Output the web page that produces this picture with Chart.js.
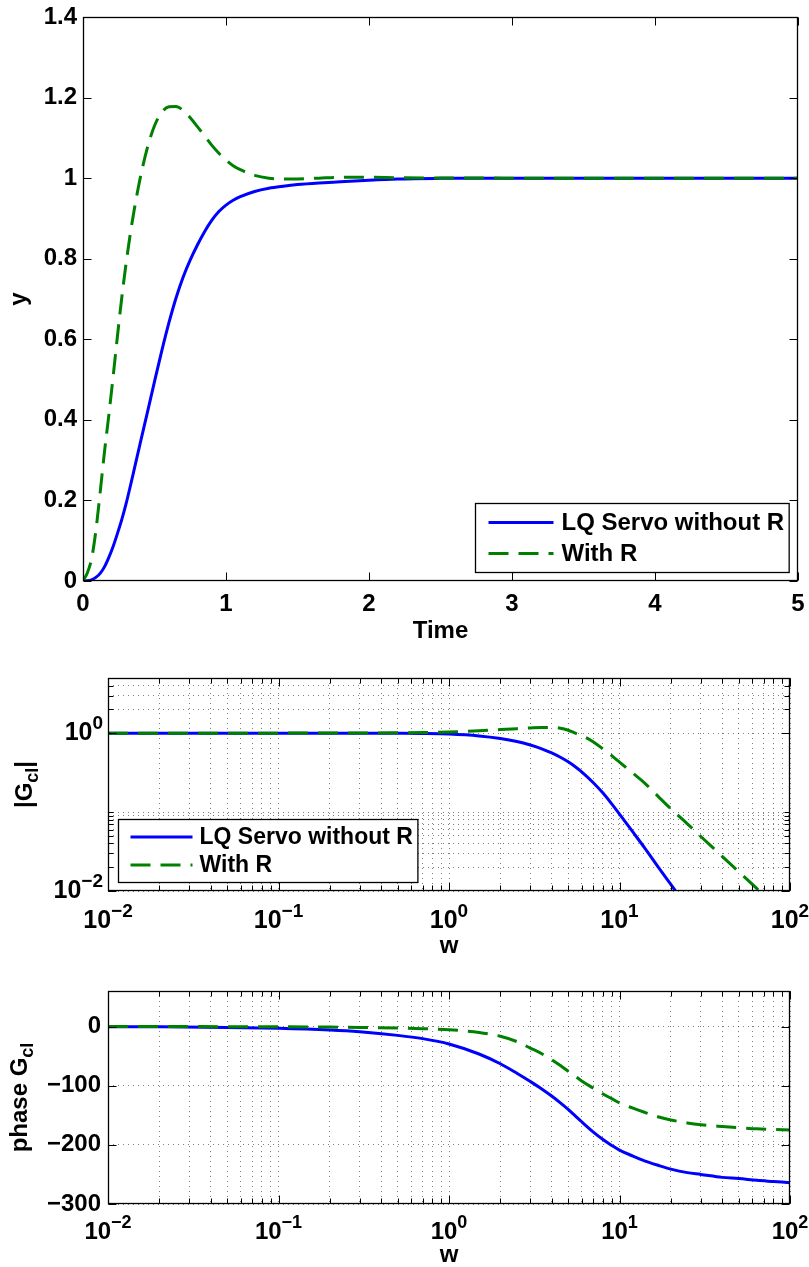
<!DOCTYPE html>
<html>
<head>
<meta charset="utf-8">
<script src="https://cdn.jsdelivr.net/npm/chart.js@4/dist/chart.umd.min.js"></script>
<style>
html,body{margin:0;padding:0;background:#fff;}
#wrap{position:relative;width:809px;height:1267px;overflow:hidden;}
canvas{position:absolute;left:0;}
</style>
</head>
<body>
<div id="wrap">
<canvas id="cStep" style="top:0px" width="809" height="660"></canvas>
<canvas id="cMag" style="top:660px" width="809" height="300"></canvas>
<canvas id="cPhase" style="top:960px" width="809" height="307"></canvas>
</div>
<script>
// step response
const stepTime  = [0,0.03,0.06,0.09,0.12,0.15,0.18,0.21,0.24,0.27,0.30,0.33,0.36,0.40,0.45,0.50,0.55,0.60,0.65,0.70,0.75,0.80,0.85,0.90,0.95,1.0,1.05,1.1,1.2,1.3,1.4,1.5,1.65,1.8,2.0,2.2,2.5,3,3.5,4,4.5,5];
const stepBlue  = [0,0.0005,0.003,0.009,0.019,0.035,0.058,0.085,0.117,0.151,0.19,0.234,0.28,0.342,0.418,0.495,0.570,0.640,0.702,0.754,0.797,0.834,0.867,0.895,0.917,0.933,0.945,0.954,0.967,0.975,0.980,0.984,0.988,0.991,0.995,0.998,0.9995,1,1,1,1,1];
const stepGreen = [0,0.02,0.055,0.125,0.22,0.32,0.41,0.505,0.605,0.70,0.785,0.86,0.925,1.0,1.075,1.13,1.163,1.177,1.178,1.168,1.15,1.128,1.105,1.082,1.062,1.045,1.031,1.021,1.007,1.0,0.998,0.998,1.0,1.002,1.002,1.001,1.0005,1,1,1,1,1];

// closed loop frequency response
const freq       = [0.01,0.02,0.05,0.1,0.2,0.3,0.5,0.7,1,1.5,2,2.5,3,3.5,4,4.5,5,5.5,6,7,8,9,10,12,14,17,20,25,30,40,50,64,80,100];
const magBlue    = [1,1,1,1,1,0.999,0.995,0.989,0.973,0.923,0.857,0.785,0.708,0.634,0.562,0.495,0.434,0.376,0.324,0.237,0.174,0.127,0.0944,0.0556,0.0355,0.0197,0.0121,0.0062,0.0035,0.0015,0.0008,0.0004,0.0002,0.0001];
const magGreen   = [1,1,1,1.001,1.003,1.005,1.012,1.02,1.035,1.07,1.11,1.14,1.165,1.18,1.18,1.155,1.09,1.0,0.93,0.78,0.63,0.52,0.43,0.31,0.235,0.155,0.11,0.071,0.049,0.0275,0.0176,0.0107,0.0068,0.0044];
const phaseBlue  = [-0.3,-0.6,-1.5,-3,-6,-9,-15,-20.5,-29.5,-46.5,-63,-79,-93,-105.5,-117.5,-129,-140,-151,-161,-178,-191,-201,-209,-219,-227,-235,-241,-247,-250,-255,-257,-260,-262,-264];
const phaseGreen = [0,-0.1,-0.25,-0.5,-1,-1.5,-2.5,-3.6,-5.5,-10,-16.5,-25.5,-36.5,-46,-56,-66,-75.5,-84,-92,-104,-114,-122,-129,-138,-145,-153,-158,-163,-166,-169,-171,-173,-174,-175];

const seriesNames  = ['LQ Servo without R', 'With R'];
const seriesColors = ['#0000ff', '#008000'];

const timeTicks   = [0,1,2,3,4,5];
const stepTicks   = [0,0.2,0.4,0.6,0.8,1,1.2,1.4];
const decades     = [0.01,0.1,1,10,100];
const magLabels   = [0.01,1];
const phaseTicks  = [-300,-200,-100,0];

const FONT = '"Liberation Sans", Arial, Helvetica, sans-serif';

// minor log positions 1..9 x 10^n
const freqGrid = [];
for (let e = -2; e < 2; e++) for (let m = 1; m < 10; m++) freqGrid.push(+(m * Math.pow(10, e)).toPrecision(3));
freqGrid.push(100);
const magGrid = [0.01,0.02,0.03,0.04,0.05,0.06,0.07,0.08,0.09,0.1,1,2,3,4,5];

const pair = (xs, ys) => xs.map((x, i) => ({x: x, y: ys[i]}));

function series(i, xs, ys) {
  return {
    label: seriesNames[i],
    data: pair(xs, ys),
    borderColor: seriesColors[i],
    backgroundColor: seriesColors[i],
    borderWidth: 3,
    borderDash: i ? [20, 10] : [],
    pointRadius: 0,
    fill: false,
    cubicInterpolationMode: 'monotone',
    order: 1 - i
  };
}

function fontFor(size) { return 'bold ' + size + 'px ' + FONT; }

// draw text made of parts [text, 'sup'|'sub'|'']
function drawParts(ctx, parts, x, y, align, size) {
  const small = Math.round(size * 0.74);
  let total = 0;
  parts.forEach(p => { ctx.font = fontFor(p[1] ? small : size); total += ctx.measureText(p[0]).width; });
  let cx = align === 'center' ? x - total / 2 : align === 'right' ? x - total : x;
  ctx.textAlign = 'left';
  ctx.textBaseline = 'middle';
  parts.forEach(p => {
    const s = p[1] ? small : size;
    ctx.font = fontFor(s);
    const dy = p[1] === 'sup' ? -size * 0.38 : p[1] === 'sub' ? size * 0.34 : 0;
    ctx.fillText(p[0], cx, y + dy);
    cx += ctx.measureText(p[0]).width;
  });
}

const minus = s => s.replace('-', '\u2212');
function fmt(kind, v) {
  if (kind === 'pow') {
    const e = Math.round(Math.log10(v));
    return [['10', ''], [minus(String(e)), 'sup']];
  }
  return [[minus(String(v)), '']];
}

const frame = {
  id: 'frame',
  afterDraw(chart, args, o) {
    const ctx = chart.ctx, a = chart.chartArea;
    const x = chart.scales.x, y = chart.scales.y;
    const L = Math.round(a.left) + 0.5, R = Math.round(a.right) - 0.5;
    const T = Math.round(a.top) + 0.5, B = Math.round(a.bottom) - 0.5;
    ctx.save();
    ctx.strokeStyle = '#000';
    ctx.lineWidth = 1;
    ctx.setLineDash([]);
    ctx.beginPath();
    const tickX = (vals, len) => vals.forEach(v => {
      const px = Math.round(x.getPixelForValue(v)) + 0.5;
      ctx.moveTo(px, B); ctx.lineTo(px, B - len);
      ctx.moveTo(px, T); ctx.lineTo(px, T + len);
    });
    const tickY = (vals, len) => vals.forEach(v => {
      const py = Math.round(y.getPixelForValue(v)) + 0.5;
      ctx.moveTo(L, py); ctx.lineTo(L + len, py);
      ctx.moveTo(R, py); ctx.lineTo(R - len, py);
    });
    tickX(o.xMinor || [], 5);
    tickY(o.yMinor || [], 5);
    tickX(o.xMajor, 8);
    tickY(o.yMajor, 8);
    ctx.stroke();
    ctx.lineWidth = 1.3;
    ctx.strokeRect(L, T, R - L, B - T);

    // legend box
    const lg = o.legend;
    if (lg) {
      ctx.font = fontFor(lg.size);
      const tw = Math.max.apply(null, chart.data.datasets.map(d => ctx.measureText(d.label).width));
      const w = lg.textX + tw + 5, h = lg.rowH * 2 + 7;
      const bx = lg.side === 'right' ? Math.round(a.right - lg.dx - w) + 0.5 : Math.round(a.left + lg.dx) + 0.5;
      const by = Math.round(a.bottom - lg.dy - h) + 0.5;
      ctx.fillStyle = '#fff';
      ctx.fillRect(bx, by, w, h);
      ctx.strokeStyle = '#000';
      ctx.lineWidth = 1.3;
      ctx.strokeRect(bx, by, w, h);
      chart.data.datasets.forEach((d, i) => {
        const ry = by + 3.5 + lg.rowH * (i + 0.5);
        ctx.beginPath();
        ctx.strokeStyle = d.borderColor;
        ctx.lineWidth = 3;
        ctx.setLineDash(d.borderDash);
        ctx.moveTo(bx + lg.lineX0, ry);
        ctx.lineTo(bx + lg.lineX1, ry);
        ctx.stroke();
        ctx.setLineDash([]);
        ctx.fillStyle = '#000';
        ctx.font = fontFor(lg.size);
        ctx.textAlign = 'left';
        ctx.textBaseline = 'middle';
        ctx.fillText(d.label, bx + lg.textX, ry + 1);
      });
    }

    // tick labels and axis titles
    ctx.fillStyle = '#000';
    o.xLabels.forEach(v => drawParts(ctx, fmt(o.xFmt, v), x.getPixelForValue(v), a.bottom + o.xLabelDy, 'center', o.tickSize));
    o.yLabels.forEach(v => drawParts(ctx, fmt(o.yFmt, v), a.left - o.yLabelGap, y.getPixelForValue(v), 'right', o.tickSize));
    drawParts(ctx, o.xTitle, (a.left + a.right) / 2, a.bottom + o.xTitleDy, 'center', o.size);
    ctx.translate(o.yTitleX, (a.top + a.bottom) / 2);
    ctx.rotate(-Math.PI / 2);
    drawParts(ctx, o.yTitle, 0, 0, 'center', o.size);
    ctx.restore();
  }
};

function fixedTicks(vals) {
  return s => { s.ticks = vals.map(v => ({value: v})); };
}

function axis(type, min, max, gridVals) {
  return {
    type: type, min: min, max: max,
    ticks: {display: false, autoSkip: false},
    border: {display: false, dash: [1, 4]},
    grid: gridVals ? {display: true, drawTicks: false, color: 'rgba(0,0,0,0.5)', lineWidth: 1} : {display: false},
    afterBuildTicks: gridVals ? fixedTicks(gridVals) : undefined,
    afterFit: s => { if (s.isHorizontal()) s.height = 0; else s.width = 0; }
  };
}

const base = {
  responsive: false,
  animation: false,
  events: [],
  plugins: {legend: {display: false}, tooltip: {enabled: false}}
};

new Chart(document.getElementById('cStep'), {
  type: 'line',
  data: {datasets: [series(0, stepTime, stepBlue), series(1, stepTime, stepGreen)]},
  options: Object.assign({}, base, {
    layout: {padding: {left: 83, top: 17, right: 11, bottom: 79}},
    scales: {x: axis('linear', 0, 5), y: axis('linear', 0, 1.4)},
    plugins: Object.assign({}, base.plugins, {
      frame: {
        xMajor: timeTicks, yMajor: stepTicks,
        xLabels: timeTicks, yLabels: stepTicks, xFmt: 'num', yFmt: 'num',
        size: 24, tickSize: 24, yLabelGap: 6, xLabelDy: 23, xTitleDy: 50, yTitleX: 19,
        xTitle: [['Time', '']], yTitle: [['y', '']],
        legend: {side: 'right', dx: 9, dy: 9, rowH: 31, size: 24, lineX0: 13, lineX1: 78, textX: 86}
      }
    })
  }),
  plugins: [frame]
});

new Chart(document.getElementById('cMag'), {
  type: 'line',
  data: {datasets: [series(0, freq, magBlue), series(1, freq, magGreen)]},
  options: Object.assign({}, base, {
    layout: {padding: {left: 108, top: 18, right: 19, bottom: 69}},
    scales: {x: axis('logarithmic', 0.01, 100, freqGrid), y: axis('logarithmic', 0.01, 5, magGrid)},
    plugins: Object.assign({}, base.plugins, {
      frame: {
        xMajor: decades, yMajor: [0.01, 1],
        xMinor: freqGrid, yMinor: magGrid,
        xLabels: decades, yLabels: magLabels, xFmt: 'pow', yFmt: 'pow',
        size: 24, tickSize: 25, yLabelGap: 5, xLabelDy: 30, xTitleDy: 55, yTitleX: 25,
        xTitle: [['w', '']], yTitle: [['|G', ''], ['cl', 'sub'], ['|', '']],
        legend: {side: 'left', dx: 10, dy: 9, rowH: 28, size: 23, lineX0: 12, lineX1: 74, textX: 81}
      }
    })
  }),
  plugins: [frame]
});

new Chart(document.getElementById('cPhase'), {
  type: 'line',
  data: {datasets: [series(0, freq, phaseBlue), series(1, freq, phaseGreen)]},
  options: Object.assign({}, base, {
    layout: {padding: {left: 108, top: 31, right: 19, bottom: 63}},
    scales: {x: axis('logarithmic', 0.01, 100, freqGrid), y: axis('linear', -300, 60, phaseTicks)},
    plugins: Object.assign({}, base.plugins, {
      frame: {
        xMajor: decades, yMajor: phaseTicks,
        xMinor: freqGrid, yMinor: [],
        xLabels: decades, yLabels: phaseTicks, xFmt: 'pow', yFmt: 'num',
        size: 24, tickSize: 24, yLabelGap: 7, xLabelDy: 28, xTitleDy: 51, yTitleX: 20,
        xTitle: [['w', '']], yTitle: [['phase G', ''], ['cl', 'sub']],
        legend: null
      }
    })
  }),
  plugins: [frame]
});
</script>
</body>
</html>
